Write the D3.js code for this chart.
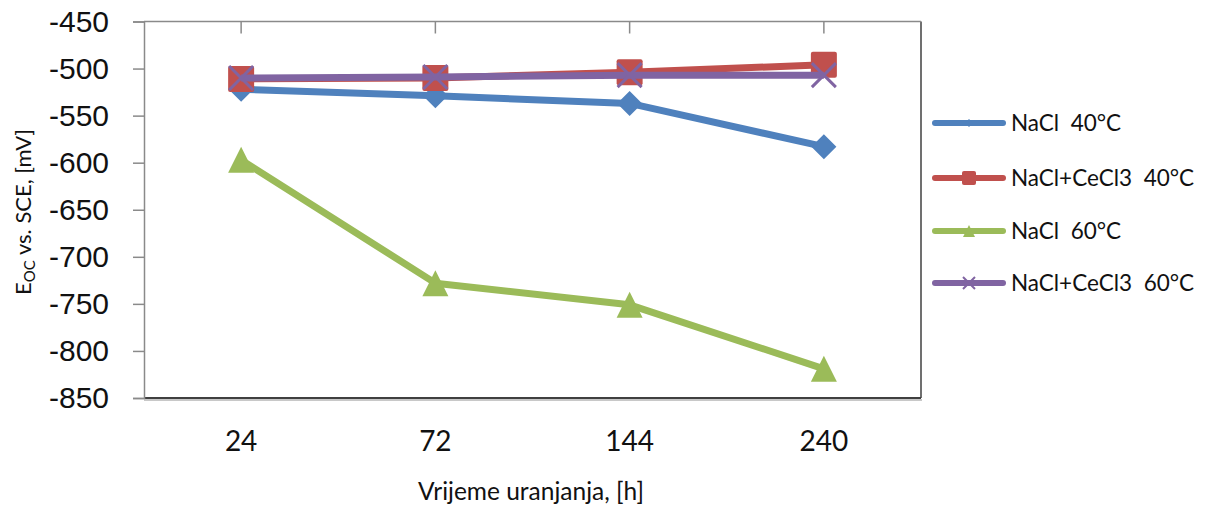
<!DOCTYPE html>
<html><head><meta charset="utf-8">
<script src="https://cdn.jsdelivr.net/npm/d3@7"></script>
<style>
html,body{margin:0;padding:0;background:#fff;}
svg text{white-space:pre;}
</style></head>
<body>
<svg id="c" width="1208" height="506"></svg>
<script>
const categories = ["24", "72", "144", "240"];
const seriesNames = ["NaCl  40°C", "NaCl+CeCl3  40°C", "NaCl  60°C", "NaCl+CeCl3  60°C"];
const nacl40 = [-522, -529, -537, -583];
const naclCe40 = [-511, -510, -504, -496];
const nacl60 = [-597, -728, -751, -819];
const naclCe60 = [-510, -509, -507, -507];
const yTicks = [-450, -500, -550, -600, -650, -700, -750, -800, -850];
const colors = ["#4F81BD", "#C0504D", "#9BBB59", "#8064A2"];
const markers = ["diamond", "square", "triangle", "x"];
const seriesValues = [nacl40, naclCe40, nacl60, naclCe60];

const svg = d3.select("#c");
const L = 144, R = 921, T = 21.5, B = 398;
const x = d3.scaleBand().domain(categories).range([L, R]);
const y = d3.scaleLinear().domain([-850, -450]).range([B, T]);
const cx = c => x(c) + x.bandwidth() / 2;
const labelFont = "Lato, 'Open Sans', sans-serif";

// plot area frame
const g = svg.append("g");
g.append("line").attr("x1", R).attr("x2", R).attr("y1", T).attr("y2", B).attr("stroke", "#404040").attr("stroke-width", 1.5);
g.append("line").attr("x1", L).attr("x2", R + 1).attr("y1", B + 2).attr("y2", B + 2).attr("stroke", "#c8c8c8").attr("stroke-width", 2);
g.append("line").attr("x1", L).attr("x2", R).attr("y1", B).attr("y2", B).attr("stroke", "#404040").attr("stroke-width", 2);

// y axis
const yAxis = d3.axisLeft(y).tickValues(yTicks).tickSize(11).tickPadding(24).tickFormat(d => String(d));
const ya = svg.append("g").attr("transform", `translate(${L},0)`).call(yAxis);
ya.select(".domain").attr("stroke", "#8a8a8a").attr("stroke-width", 1.5);
ya.selectAll(".tick line").attr("stroke", "#8a8a8a").attr("stroke-width", 1.5);
ya.selectAll(".tick text").attr("font-family", "'Liberation Sans', Arial, sans-serif").attr("font-size", 30).attr("fill", "#111").attr("dx", 0);

// top category axis (crosses at -450), ticks pointing inside
const xa = svg.append("g").attr("transform", `translate(0,${T})`).call(d3.axisBottom(x).tickSize(12).tickFormat(""));
xa.select(".domain").attr("d", `M${L},0H${R}`).attr("stroke", "#8a8a8a").attr("stroke-width", 1.5);
xa.selectAll(".tick line").attr("stroke", "#8a8a8a").attr("stroke-width", 1.5);

// category labels at bottom
svg.append("g").selectAll("text").data(categories).join("text")
  .attr("x", d => cx(d)).attr("y", 451).attr("text-anchor", "middle")
  .attr("font-family", labelFont).attr("font-size", 28).attr("fill", "#111").text(d => d);

// axis titles
svg.append("text").attr("x", 531).attr("y", 500)
  .attr("text-anchor", "middle").attr("font-family", labelFont).attr("font-size", 24.5).attr("fill", "#111")
  .text("Vrijeme uranjanja, [h]");
const yt = svg.append("text").attr("transform", "translate(31,212) rotate(-90)").attr("text-anchor", "middle")
  .attr("font-family", labelFont).attr("font-size", 22).attr("fill", "#111");
yt.append("tspan").text("E");
yt.append("tspan").attr("font-size", 15).attr("dy", 4).text("OC");
yt.append("tspan").attr("dy", -4).text(" vs. SCE, [mV]");

// marker drawer
function drawMarker(sel, type, color, s) {
  if (type === "diamond") {
    sel.append("path").attr("d", `M0,${-s/2}L${s/2},0L0,${s/2}L${-s/2},0Z`).attr("fill", color);
  } else if (type === "square") {
    sel.append("rect").attr("x", -s/2).attr("y", -s/2).attr("width", s).attr("height", s).attr("rx", 2).attr("fill", color);
  } else if (type === "triangle") {
    sel.append("path").attr("d", `M0,${-s/2}L${s/2},${s/2}L${-s/2},${s/2}Z`).attr("fill", color);
  } else {
    const h = s / 2;
    sel.append("path").attr("d", `M${-h},${-h}L${h},${h}M${h},${-h}L${-h},${h}`).attr("stroke", color).attr("stroke-width", Math.max(2, s / 8)).attr("fill", "none");
  }
}
const markerSizes = [25, 26, 26, 24];
const legendSizes = [8, 14, 12, 12];

const line = d3.line().x((d, i) => cx(categories[i])).y(d => y(d));
seriesValues.forEach((vals, k) => {
  const sg = svg.append("g");
  sg.append("path").datum(vals).attr("d", line).attr("fill", "none")
    .attr("stroke", colors[k]).attr("stroke-width", 7).attr("stroke-linejoin", "round");
  vals.forEach((v, i) => {
    const m = sg.append("g").attr("transform", `translate(${cx(categories[i])},${y(v)})`);
    drawMarker(m, markers[k], colors[k], markerSizes[k]);
  });
});

// legend
const legY = [123, 178, 231, 283];
seriesNames.forEach((name, k) => {
  const lg = svg.append("g").attr("transform", `translate(0,${legY[k]})`);
  lg.append("line").attr("x1", 935).attr("x2", 1003).attr("y1", 0).attr("y2", 0)
    .attr("stroke", colors[k]).attr("stroke-width", 6).attr("stroke-linecap", "round");
  const m = lg.append("g").attr("transform", "translate(969,0)");
  drawMarker(m, markers[k], colors[k], legendSizes[k]);
  lg.append("text").attr("x", 1011).attr("y", 8).attr("font-family", labelFont).attr("font-size", 22.5)
    .attr("fill", "#111").text(name);
});
</script>
</body></html>
